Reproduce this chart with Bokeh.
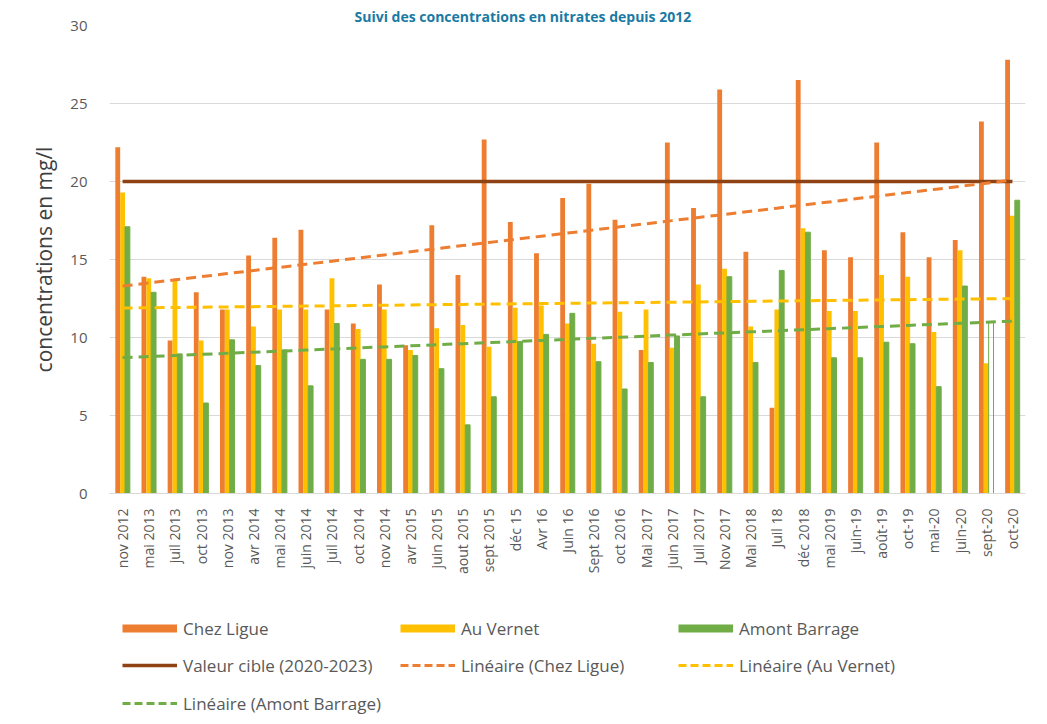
import numpy as np
from bokeh.plotting import figure
from bokeh.models import (FactorRange, Range1d, ColumnDataSource, Legend, LegendItem,
                          FixedTicker)
from bokeh.layouts import column
from bokeh.transform import dodge
from bokeh.embed import file_html
from bokeh.resources import INLINE

categories = ["nov 2012", "mai 2013", "juil 2013", "oct 2013", "nov 2013", "avr 2014",
              "mai 2014", "juin 2014", "juil 2014", "oct 2014", "nov 2014", "avr 2015",
              "juin 2015", "aout 2015", "sept 2015", "déc 15", "Avr 16", "Juin 16",
              "Sept 2016", "oct 2016", "Mai 2017", "juin 2017", "Juil 2017", "Nov 2017",
              "Mai 2018", "Juil 18", "déc 2018", "mai 2019", "juin-19", "août-19",
              "oct-19", "mai-20", "juin-20", "sept-20", "oct-20"]

chez_ligue = [22.2, 13.9, 9.8, 12.9, 11.8, 15.25, 16.4, 16.9, 11.8, 10.9, 13.4, 9.5,
              17.2, 14.0, 22.7, 17.4, 15.4, 18.95, 19.85, 17.55, 9.2, 22.5, 18.3, 25.9,
              15.5, 5.5, 26.5, 15.6, 15.15, 22.5, 16.75, 15.15, 16.25, 23.85, 27.8]
au_vernet = [19.3, 13.8, 13.65, 9.8, 11.8, 10.7, 11.8, 11.8, 13.8, 10.55, 11.8, 9.2,
             10.6, 10.8, 9.4, 11.9, 12.05, 10.9, 9.6, 11.65, 11.8, 9.35, 13.4, 14.4,
             10.7, 11.8, 17.0, 11.7, 11.7, 14.0, 13.9, 10.35, 15.6, 8.35, 17.8]
amont_barrage = [17.1, 12.9, 8.95, 5.8, 9.85, 8.2, 9.2, 6.9, 10.9, 8.6, 8.6, 8.85,
                 8.0, 4.4, 6.2, 9.75, 10.2, 11.55, 8.45, 6.7, 8.4, 10.1, 6.2, 13.9,
                 8.4, 14.3, 16.75, 8.7, 8.7, 9.7, 9.6, 6.85, 13.3, 11.0, 18.8]
valeur_cible = 20

y_ticks = [0, 5, 10, 15, 20, 25, 30]

title_text = "Suivi des concentrations en nitrates depuis 2012"
y_label = "concentrations en mg/l"
legend_labels = ["Chez Ligue", "Au Vernet", "Amont Barrage",
                 "Valeur cible (2020-2023)", "Linéaire (Chez Ligue)",
                 "Linéaire (Au Vernet)", "Linéaire (Amont Barrage)"]

C_ORANGE = "#ED7D31"
C_YELLOW = "#FFC000"
C_GREEN = "#70AD47"
C_BROWN = "#8F4315"
TXT = "#595959"
FONT = "Open Sans"

W = 1035
H_MAIN = 580
H_LEG = 140
FRAME_LEFT = 109

idx = np.arange(len(categories))

def trend(vals):
    a, b = np.polyfit(idx, np.array(vals), 1)
    return list(a * idx + b)

src = ColumnDataSource(dict(
    cat=categories, chez=chez_ligue, vernet=au_vernet, amont=amont_barrage,
    amont_alpha=[0.0 if c == "sept-20" else 1.0 for c in categories],
    cible=[valeur_cible] * len(categories),
    t_chez=trend(chez_ligue), t_vernet=trend(au_vernet), t_amont=trend(amont_barrage),
))

p = figure(x_range=FactorRange(factors=categories, range_padding=0),
           y_range=Range1d(0, 30), width=W, height=H_MAIN,
           output_backend="svg", toolbar_location=None,
           min_border_left=FRAME_LEFT, min_border_right=10, min_border_top=25,
           min_border_bottom=H_MAIN - 493)
p.outline_line_color = None
p.background_fill_color = "white"

p.title.text = title_text
p.title.align = "left"
p.title.offset = 245
p.title.standoff = 0
p.title.text_font = FONT
p.title.text_font_size = "14px"
p.title.text_font_style = "bold"
p.title.text_color = "#1A7AA3"

bw = 0.185
p.vbar(x=dodge("cat", -bw, range=p.x_range), top="chez", width=bw, source=src,
       fill_color=C_ORANGE, line_color=None)
p.vbar(x=dodge("cat", 0, range=p.x_range), top="vernet", width=bw, source=src,
       fill_color=C_YELLOW, line_color=None)
p.vbar(x=dodge("cat", bw, range=p.x_range), top="amont", width=bw, source=src,
       fill_color=C_GREEN, fill_alpha="amont_alpha", line_color=C_GREEN, line_width=1)

p.line("cat", "cible", source=src, line_color=C_BROWN, line_width=3.5)
p.line("cat", "t_chez", source=src, line_color=C_ORANGE, line_width=3, line_dash="10 6")
p.line("cat", "t_vernet", source=src, line_color=C_YELLOW, line_width=3, line_dash="10 6")
p.line("cat", "t_amont", source=src, line_color=C_GREEN, line_width=3, line_dash="10 6")

p.xgrid.grid_line_color = None
p.ygrid.grid_line_color = "#D9D9D9"
p.ygrid.grid_line_width = 1
p.yaxis.ticker = FixedTicker(ticks=y_ticks)
p.yaxis.axis_line_color = None
p.yaxis.major_tick_line_color = None
p.yaxis.minor_tick_line_color = None
p.yaxis.major_label_standoff = 16
p.yaxis.major_label_text_font = FONT
p.yaxis.major_label_text_font_size = "15px"
p.yaxis.major_label_text_color = TXT
p.yaxis.axis_label = y_label
p.yaxis.axis_label_text_font = FONT
p.yaxis.axis_label_text_font_size = "21px"
p.yaxis.axis_label_text_font_style = "normal"
p.yaxis.axis_label_text_color = "#404040"
p.yaxis.axis_label_standoff = 9

p.xaxis.axis_line_color = "#D9D9D9"
p.xaxis.major_tick_line_color = None
p.xaxis.minor_tick_line_color = None
p.xaxis.major_label_orientation = np.pi / 2
p.xaxis.major_label_standoff = 9
p.xaxis.major_label_text_font = FONT
p.xaxis.major_label_text_font_size = "14px"
p.xaxis.major_label_text_color = TXT

# legend figure below the chart (its frame is aligned with the chart frame)
lf = figure(width=W, height=H_LEG, x_range=(0, 1), y_range=(0, 1),
            output_backend="svg", toolbar_location=None,
            x_axis_type=None, y_axis_type=None, min_border=0)
lf.outline_line_color = None
lf.grid.visible = False

nan = [float("nan")]
sw = [lf.line(nan, nan, line_color=C_ORANGE, line_width=8),
      lf.line(nan, nan, line_color=C_YELLOW, line_width=8),
      lf.line(nan, nan, line_color=C_GREEN, line_width=8),
      lf.line(nan, nan, line_color=C_BROWN, line_width=3.5),
      lf.line(nan, nan, line_color=C_ORANGE, line_width=3, line_dash="8 4"),
      lf.line(nan, nan, line_color=C_YELLOW, line_width=3, line_dash="8 4"),
      lf.line(nan, nan, line_color=C_GREEN, line_width=3, line_dash="8 4")]

col_x = [122 - FRAME_LEFT, 400 - FRAME_LEFT, 678 - FRAME_LEFT]
row_c = [628 - H_MAIN, 665 - H_MAIN, 703 - H_MAIN]
ITEM_H = 24
for i, (lab, r) in enumerate(zip(legend_labels, sw)):
    cx = col_x[i % 3]
    cy = row_c[i // 3]
    leg = Legend(items=[LegendItem(label=lab, renderers=[r])],
                 location=(cx, H_LEG - cy - ITEM_H // 2),
                 border_line_color=None, background_fill_alpha=0,
                 padding=0, margin=0, spacing=0,
                 glyph_width=55, glyph_height=ITEM_H, label_height=ITEM_H,
                 label_standoff=6, label_text_font=FONT,
                 label_text_font_size="17px", label_text_color=TXT)
    lf.add_layout(leg)

open("out.html", "w").write(file_html(column(p, lf, spacing=0), INLINE))
